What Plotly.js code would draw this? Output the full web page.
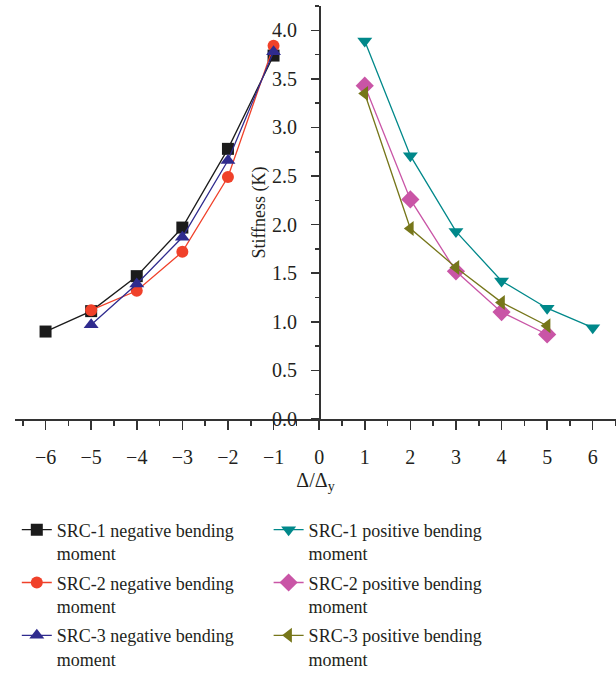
<!DOCTYPE html>
<html>
<head>
<meta charset="utf-8">
<script src="https://cdn.plot.ly/plotly-3.0.1.min.js"></script>
<style>html,body{margin:0;padding:0;background:#fff;}#chart{width:616px;height:678px;}</style>
</head>
<body>
<div id="chart"></div>
<script>
const xNeg1 = [-6, -5, -4, -3, -2, -1];
const yNeg1 = [0.90, 1.11, 1.47, 1.97, 2.78, 3.74];
const xNeg2 = [-5, -4, -3, -2, -1];
const yNeg2 = [1.12, 1.32, 1.72, 2.49, 3.84];
const xNeg3 = [-5, -4, -3, -2, -1];
const yNeg3 = [0.97, 1.39, 1.87, 2.66, 3.78];
const xPos1 = [1, 2, 3, 4, 5, 6];
const yPos1 = [3.89, 2.71, 1.93, 1.42, 1.14, 0.94];
const xPos2 = [1, 2, 3, 4, 5];
const yPos2 = [3.43, 2.26, 1.52, 1.10, 0.87];
const xPos3 = [1, 2, 3, 4, 5];
const yPos3 = [3.35, 1.96, 1.56, 1.20, 0.96];
const names = [
  'SRC-1 negative bending<br>moment', 'SRC-2 negative bending<br>moment', 'SRC-3 negative bending<br>moment',
  'SRC-1 positive bending<br>moment', 'SRC-2 positive bending<br>moment', 'SRC-3 positive bending<br>moment'
];

function tr(x, y, name, color, symbol, size, legend) {
  return {
    x: x, y: y, name: name, type: 'scatter', mode: 'lines+markers',
    line: {color: color, width: 1.3},
    marker: {color: color, symbol: symbol, size: size, line: {width: 0}},
    legend: legend, legendgroup: name
  };
}

const data = [
  tr(xNeg1, yNeg1, names[0], '#1b1b1b', 'square', 12, 'legend'),
  tr(xNeg2, yNeg2, names[1], '#f0412a', 'circle', 12, 'legend'),
  tr(xNeg3, yNeg3, names[2], '#2f2b8e', 'triangle-up', 13, 'legend'),
  tr(xPos1, yPos1, names[3], '#00888a', 'triangle-down', 13, 'legend2'),
  tr(xPos2, yPos2, names[4], '#c955a6', 'diamond', 14, 'legend2'),
  tr(xPos3, yPos3, names[5], '#76761a', 'triangle-left', 13, 'legend2')
];

const font = {family: 'Liberation Serif, Times New Roman, serif', size: 18, color: '#231f20'};
const tickFont = {family: 'Liberation Serif, Times New Roman, serif', size: 20, color: '#231f20'};
const axColor = '#333333';
const legendBase = {
  orientation: 'v', xanchor: 'left', yanchor: 'top', valign: 'top',
  bgcolor: 'rgba(0,0,0,0)', font: font, itemwidth: 30, tracegroupgap: 3
};

const layout = {
  width: 616, height: 678,
  margin: {l: 15, r: 0, t: 6, b: 250},
  paper_bgcolor: '#fff', plot_bgcolor: '#fff',
  font: font,
  showlegend: true,
  xaxis: {
    range: [-6.67, 6.51], dtick: 1, tick0: 0,
    showline: true, linecolor: axColor, linewidth: 1.5,
    showgrid: false, zeroline: false,
    ticks: 'outside', ticklen: 9, tickwidth: 1.5, tickcolor: axColor,
    minor: {dtick: 0.5, ticks: 'outside', ticklen: 5, tickwidth: 1.5, tickcolor: axColor},
    tickfont: tickFont, ticklabelstandoff: 10,
    title: {text: 'Δ/Δ<sub>y</sub>', font: tickFont, standoff: 6}
  },
  yaxis: {
    range: [0, 4.25], dtick: 0.5, tick0: 0, tickformat: '.1f',
    anchor: 'free', position: 0.506, side: 'left',
    showline: true, linecolor: axColor, linewidth: 1.5,
    showgrid: false, zeroline: false,
    ticks: 'outside', ticklen: 8, tickwidth: 1.5, tickcolor: axColor,
    minor: {dtick: 0.25, ticks: 'outside', ticklen: 4, tickwidth: 1.5, tickcolor: axColor},
    tickfont: tickFont, ticksuffix: '\u2002',
    title: {text: 'Stiffness (K)', font: font, standoff: 0}
  },
  legend: Object.assign({}, legendBase, {x: 0.003, y: -0.224}),
  legend2: Object.assign({}, legendBase, {x: 0.422, y: -0.224})
};

Plotly.newPlot('chart', data, layout, {displayModeBar: false, staticPlot: true});
</script>
</body>
</html>
